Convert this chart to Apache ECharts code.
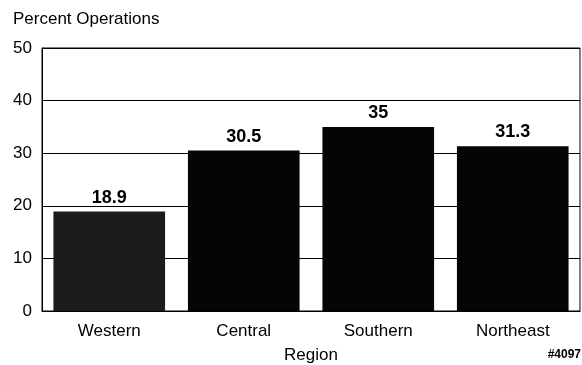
<!DOCTYPE html>
<html>
<head>
<meta charset="utf-8">
<script src="https://cdn.jsdelivr.net/npm/echarts@6/dist/echarts.min.js"></script>
<style>
  html, body { margin: 0; padding: 0; background: #fff; }
  #chart { width: 582px; height: 365px; }
</style>
</head>
<body>
<div id="chart"></div>
<script>
// regions and percent of operations
var regions = ['Western', 'Central', 'Southern', 'Northeast'];
var percentOps = [18.9, 30.5, 35, 31.3];
var barColors = ['#1c1c1c', '#050505', '#050505', '#050505'];

var myChart = echarts.init(document.getElementById('chart'));
var font = 'Liberation Sans, Arial, sans-serif';

var option = {
    animation: false,
    title: {
        text: 'Percent Operations',
        left: 8,
        top: 6,
        textStyle: { fontFamily: font, fontSize: 17, fontWeight: 'normal', color: '#000' }
    },
    graphic: [{
        type: 'text',
        right: 1,
        top: 349,
        style: { text: '#4097', font: 'bold 12px Liberation Sans, Arial, sans-serif', fill: '#000' }
    }],
    grid: {
        left: 42,
        right: 2,
        top: 48,
        bottom: 54,
        outerBoundsMode: 'none',
        containLabel: false,
        show: true,
        borderColor: '#000',
        borderWidth: 1
    },
    xAxis: {
        type: 'category',
        data: regions,
        name: 'Region',
        nameLocation: 'middle',
        nameGap: 36,
        nameTextStyle: { fontFamily: font, fontSize: 17, color: '#000' },
        axisLine: { lineStyle: { color: '#000' } },
        axisTick: { show: false },
        axisLabel: { fontFamily: font, fontSize: 17, color: '#000', margin: 12 }
    },
    yAxis: {
        type: 'value',
        min: 0,
        max: 50,
        interval: 10,
        axisLine: { show: true, lineStyle: { color: '#000' } },
        axisTick: { show: false },
        axisLabel: { fontFamily: font, fontSize: 17, color: '#000', margin: 10 },
        splitLine: { lineStyle: { color: '#000', width: 1 } }
    },
    series: [{
        type: 'bar',
        data: percentOps.map(function (v, i) {
            return { value: v, itemStyle: { color: barColors[i] } };
        }),
        barCategoryGap: '17%',
        label: {
            show: true,
            position: 'top',
            distance: 5,
            fontFamily: font,
            fontSize: 18,
            fontWeight: 'bold',
            color: '#000'
        }
    }]
};

myChart.setOption(option);
</script>
</body>
</html>
